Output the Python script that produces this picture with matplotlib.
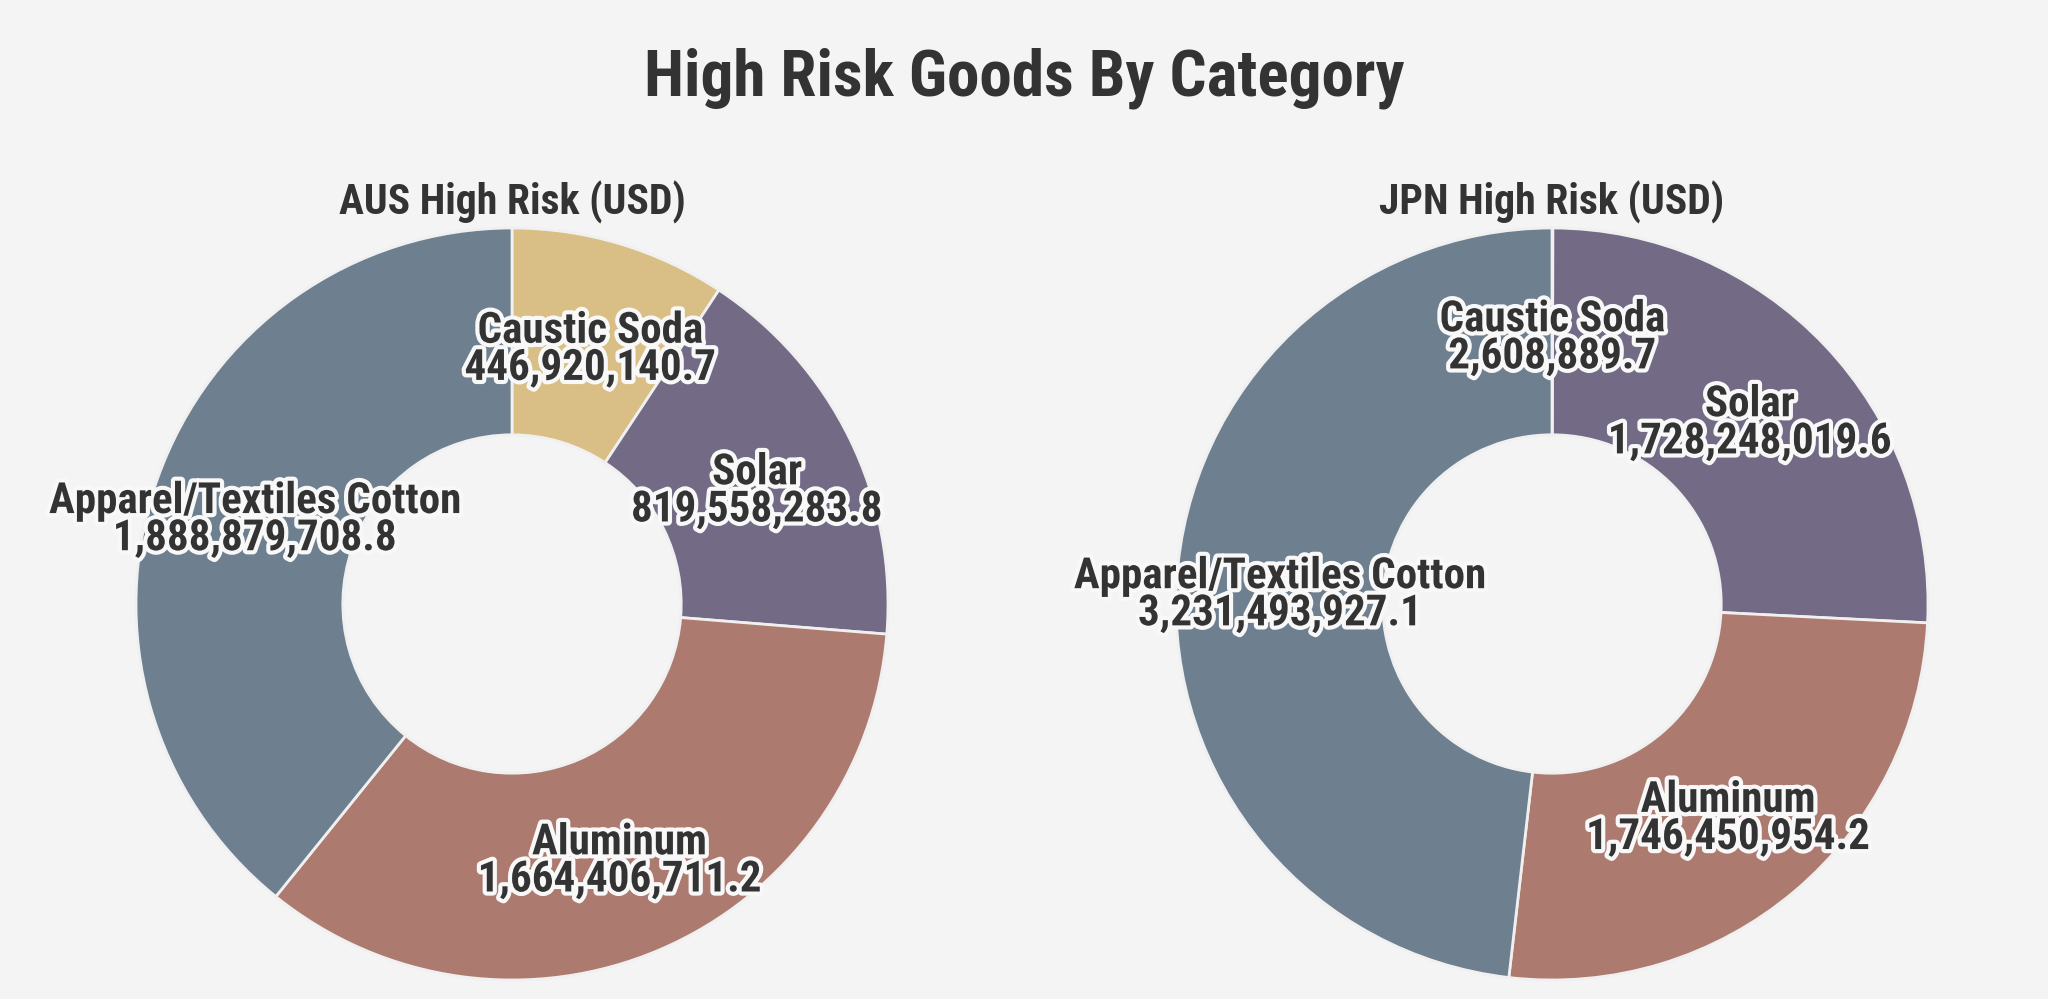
import matplotlib
matplotlib.use('Agg')
import numpy as np
import matplotlib.pyplot as plt
import matplotlib.patheffects as pe
from matplotlib import font_manager

# data
categories = ['Caustic Soda', 'Solar', 'Aluminum', 'Apparel/Textiles Cotton']
aus_values = [446920140.7, 819558283.8, 1664406711.2, 1888879708.8]
jpn_values = [2608889.7, 1728248019.6, 1746450954.2, 3231493927.1]
chart_title = 'High Risk Goods By Category'
aus_title = 'AUS High Risk (USD)'
jpn_title = 'JPN High Risk (USD)'

colors = ['#d9bf86', '#736a85', '#ad7a70', '#6e7f8f']
bg = '#f4f4f4'
txt = '#333333'

names = {f.name for f in font_manager.fontManager.ttflist}
font = 'Roboto'
for cand in ['Roboto Condensed', 'Liberation Sans Narrow', 'Roboto']:
    if cand in names:
        font = cand
        break
narrow = font != 'Roboto'
plt.rcParams['font.family'] = [font, 'DejaVu Sans']

fig = plt.figure(figsize=(20.48, 9.99), dpi=100, facecolor=bg)

fig.text(0.5, 1 - 78 / 999, chart_title, ha='center', va='center',
         fontsize=47 if narrow else 40, fontweight='bold', color=txt)

halo = [pe.withStroke(linewidth=6, foreground='#f8f8f8')]


def donut(cx, values, title):
    r_w = 376 / 2048
    r_h = 376 / 999
    cy = 1 - 604 / 999
    ax = fig.add_axes([cx - r_w, cy - r_h, 2 * r_w, 2 * r_h])
    ax.set_facecolor(bg)
    wedges, _ = ax.pie(values, colors=colors, startangle=90, counterclock=False,
                       radius=1, wedgeprops=dict(width=0.55, edgecolor='#f0f0f0', linewidth=2))
    for w, name, v in zip(wedges, categories, values):
        ang = np.deg2rad((w.theta1 + w.theta2) / 2)
        rr = 0.725
        ax.annotate(f'{name}\n{v:,.1f}', (rr * np.cos(ang), rr * np.sin(ang)),
                    xytext=(0, -5), textcoords='offset points',
                    ha='center', va='center', fontsize=31 if narrow else 25,
                    fontweight='bold', color=txt, linespacing=0.88, path_effects=halo)
    ax.set_xlim(-1, 1)
    ax.set_ylim(-1, 1)
    ax.set_aspect('equal')
    ax.axis('off')
    fig.text(cx, 1 - 202 / 999, title, ha='center', va='center',
             fontsize=30 if narrow else 26, fontweight='bold', color=txt)


donut(512 / 2048, aus_values, aus_title)
donut(1552 / 2048, jpn_values, jpn_title)

fig.savefig('out.png', dpi=100, facecolor=bg)
